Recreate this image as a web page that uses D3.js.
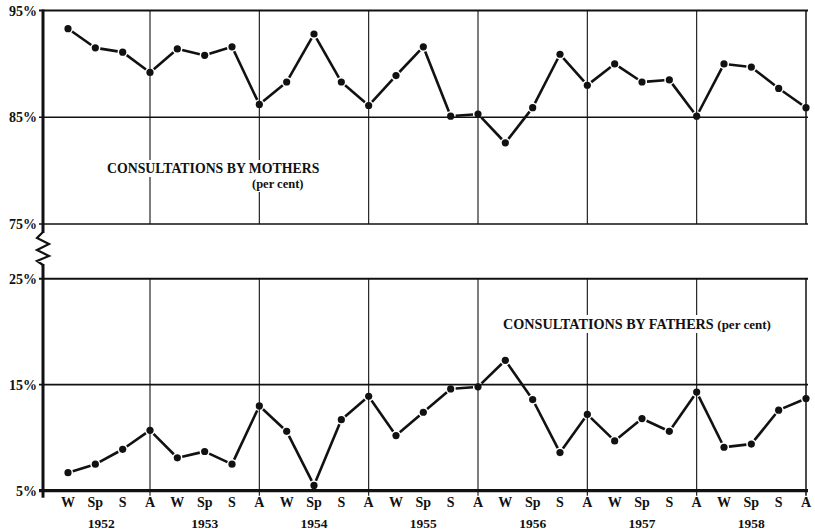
<!DOCTYPE html>
<html><head><meta charset="utf-8">
<script src="https://cdn.jsdelivr.net/npm/d3@7"></script>
<style>body{margin:0;background:#fff}svg{display:block}</style>
</head><body>
<script>
const seasons = ["W","Sp","S","A"];
const years = ["1952","1953","1954","1955","1956","1957","1958"];
const mothers = [93.3,91.5,91.1,89.2, 91.4,90.8,91.6,86.2, 88.3,92.8,88.3,86.1, 88.9,91.6,85.1,85.3,
                 82.6,85.9,90.9,88.0, 90.0,88.3,88.5,85.1, 90.0,89.7,87.7,85.9];
const fathers = [6.7,7.5,8.9,10.7, 8.1,8.7,7.5,13.0, 10.6,5.5,11.7,13.9, 10.2,12.4,14.6,14.8,
                 17.3,13.6,8.6,12.2, 9.7,11.8,10.6,14.3, 9.1,9.4,12.6,13.7];
const topTicks = [95,85,75];
const bottomTicks = [25,15,5];

const W = 815, H = 532;
const svg = d3.select("body").append("svg").attr("width", W).attr("height", H);
const font = "'Liberation Serif','Times New Roman',serif";

const xLeft = 43, xRight = 807;
const x = d3.scaleLinear().domain([3, 27]).range([150, 806]);
const yTop = d3.scaleLinear().domain([75, 95]).range([224, 10.5]);
const yBot = d3.scaleLinear().domain([5, 25]).range([490.7, 278.7]);

const idx = d3.range(mothers.length);
const aIdx = idx.filter(i => i % 4 === 3);

function hlines(scale, ticks, widths) {
  ticks.forEach((t, k) => {
    svg.append("line").attr("x1", xLeft - 4).attr("x2", xRight + 1)
      .attr("y1", scale(t)).attr("y2", scale(t))
      .attr("stroke", "#111").attr("stroke-width", widths[k]);
  });
}
hlines(yTop, topTicks, [2, 1.5, 1.5]);
hlines(yBot, bottomTicks, [2, 1.8, 3.2]);

aIdx.forEach(i => {
  svg.append("line").attr("x1", x(i)).attr("x2", x(i))
    .attr("y1", yTop(95)).attr("y2", yTop(75)).attr("stroke", "#111").attr("stroke-width", i === 27 ? 1.5 : 1.1);
  svg.append("line").attr("x1", x(i)).attr("x2", x(i))
    .attr("y1", yBot(25)).attr("y2", yBot(5) + 5).attr("stroke", "#111").attr("stroke-width", i === 27 ? 1.5 : 1.1);
});

svg.append("line").attr("x1", xLeft).attr("x2", xLeft).attr("y1", yTop(95) - 1).attr("y2", 233)
  .attr("stroke", "#111").attr("stroke-width", 3);
svg.append("polyline")
  .attr("points", [[xLeft,232],[37,238],[49,244],[37,250],[49,256],[37,261],[xLeft,265]].map(p=>p.join(",")).join(" "))
  .attr("fill", "none").attr("stroke", "#111").attr("stroke-width", 2.2);
svg.append("line").attr("x1", xLeft).attr("x2", xLeft).attr("y1", 264).attr("y2", yBot(5) + 7)
  .attr("stroke", "#111").attr("stroke-width", 3);

function ylabels(scale, ticks) {
  ticks.forEach(t => {
    svg.append("text").attr("x", 37).attr("y", scale(t) + 5)
      .attr("text-anchor", "end").attr("font-family", font).attr("font-weight", "bold")
      .attr("font-size", 14).attr("fill", "#111").text(t + "%");
  });
}
ylabels(yTop, topTicks);
ylabels(yBot, bottomTicks);

function backing(t) {
  const b = t.node().getBBox();
  svg.insert("rect", "text").attr("x", b.x - 3).attr("y", b.y - 1)
    .attr("width", b.width + 6).attr("height", b.height + 2).attr("fill", "#fff");
}
backing(svg.append("text").attr("x", 107).attr("y", 173)
  .attr("font-family", font).attr("font-weight", "bold").attr("font-size", 13.8)
  .attr("fill", "#111").text("CONSULTATIONS BY MOTHERS"));
backing(svg.append("text").attr("x", 252).attr("y", 188)
  .attr("font-family", font).attr("font-weight", "bold").attr("font-size", 12.5)
  .attr("fill", "#111").text("(per cent)"));
const ft = svg.append("text").attr("x", 503).attr("y", 329)
  .attr("font-family", font).attr("font-weight", "bold").attr("fill", "#111");
ft.append("tspan").attr("font-size", 14.2).text("CONSULTATIONS BY FATHERS ");
ft.append("tspan").attr("font-size", 13).text("(per cent)");
backing(ft);

idx.forEach(i => {
  svg.append("text").attr("x", x(i)).attr("y", 507).attr("text-anchor", "middle")
    .attr("font-family", font).attr("font-weight", "bold").attr("font-size", 14)
    .attr("fill", "#111").text(seasons[i % 4]);
});
years.forEach((yv, k) => {
  svg.append("text").attr("x", x(k * 4 + 1) + (k === 0 ? 6 : 0)).attr("y", 528).attr("text-anchor", "middle")
    .attr("font-family", font).attr("font-weight", "bold").attr("font-size", 13.5)
    .attr("fill", "#111").text(yv);
});

function series(vals, yScale) {
  const pts = vals.map((v, i) => [x(i), yScale(v)]);
  const g = svg.append("g");
  const gap = 5;
  for (let i = 0; i < pts.length - 1; i++) {
    const [x1, y1] = pts[i], [x2, y2] = pts[i + 1];
    const dx = x2 - x1, dy = y2 - y1, len = Math.hypot(dx, dy);
    if (len <= 2 * gap) continue;
    const ux = dx / len, uy = dy / len;
    g.append("line").attr("x1", x1 + ux * gap).attr("y1", y1 + uy * gap)
      .attr("x2", x2 - ux * gap).attr("y2", y2 - uy * gap)
      .attr("stroke", "#111").attr("stroke-width", 2.6);
  }
  g.selectAll("circle").data(pts).join("circle")
    .attr("cx", d => d[0]).attr("cy", d => d[1]).attr("r", 3.6).attr("fill", "#111");
}
series(mothers, yTop);
series(fathers, yBot);
</script>
</body></html>
